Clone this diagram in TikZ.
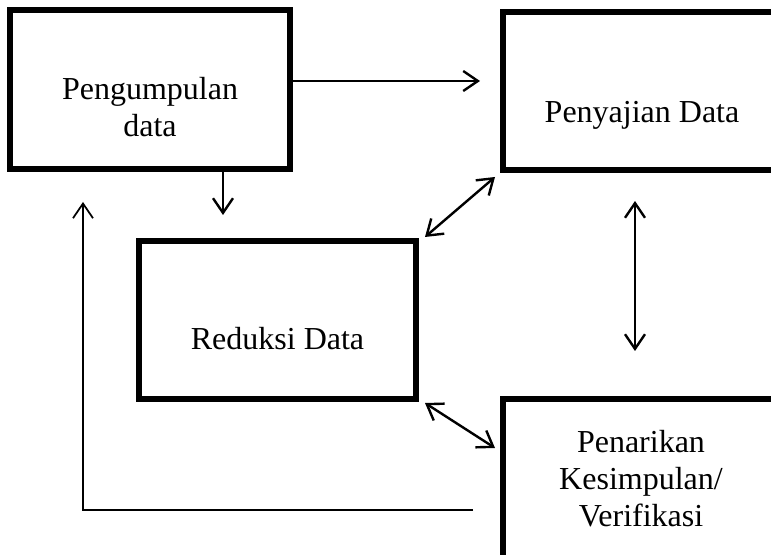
\documentclass[tikz,border=0pt]{standalone}
\usepackage{fontspec}
\setmainfont{Liberation Serif}
\usetikzlibrary{arrows.meta, calc}

\begin{document}
\begin{tikzpicture}[
  x=0.75pt, y=-0.75pt,
  font=\fontsize{24}{27.75}\selectfont,
  >={Straight Barb[length=11pt,width=15pt]},
  box/.style={
    draw, line width=4pt,
    minimum width=207.75pt,
    minimum height=118.5pt,
    inner sep=0pt, outer sep=0pt,
  },
  lbl/.style={align=center, inner sep=0pt},
  arr/.style={->, line width=1.8pt},
  dbl/.style={<->, line width=1.8pt},
]
  \useasboundingbox (0,0) rectangle (771,555);
  \clip (0,0) rectangle (771,555);

  % boxes
  \node[box, minimum width=210pt, minimum height=119.25pt] (pd) at (150,89.5) {};
  \node[box] (sd) at (641.5,91) {};
  \node[box] (rd) at (277.5,320) {};
  \node[box, minimum height=124.5pt] (kv) at (641.5,482) {};

  % labels
  \node[lbl] (pdt) at (150,107.5) {Pengumpulan\\data};
  \node[lbl] (sdt) at (642,115.5) {Penyajian Data};
  \node[lbl] (rdt) at (277.5,339) {Reduksi Data};
  \node[lbl] (kvt) at (641,478.5) {Penarikan\\Kesimpulan/\\Verifikasi};

  % free ends
  \coordinate (a1) at (480,81);
  \coordinate (a2) at (223,215);
  \coordinate (fbs) at (473,510);
  \coordinate (fb) at (83,202);

  \draw[arr] (pd.east |- a1) -- (a1);
  \draw[arr] (pd.south -| a2) -- (a2);
  \draw[dbl] ([shift={(9,-4)}]rd.north east) -- ([shift={(-8,7)}]sd.south west);
  \draw[dbl] ([shift={(-6.5,31)}]sd.south) -- ([shift={(-6.5,-48)}]kv.north);
  \draw[dbl] ([shift={(9,4)}]rd.south east) -- ([shift={(-8,49)}]kv.north west);
  \draw[->, line width=1.3pt] (fbs) -- (fbs -| fb) -- (fb);
\end{tikzpicture}
\end{document}
